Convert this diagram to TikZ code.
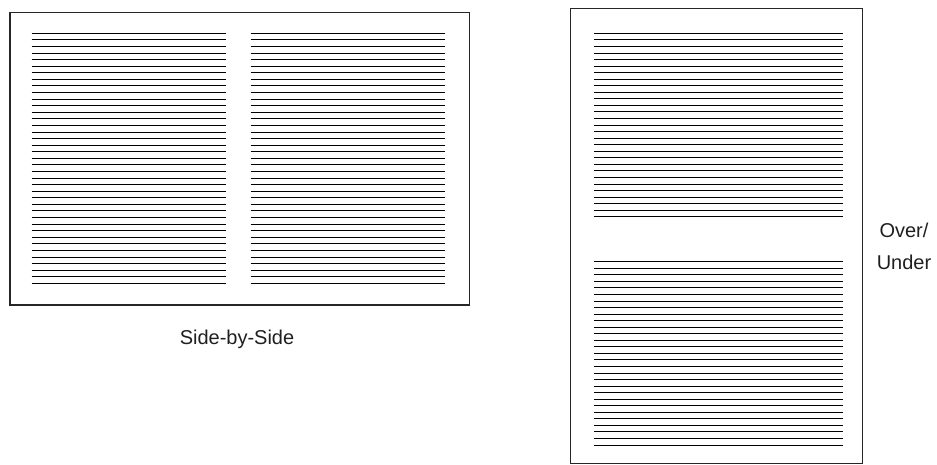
\documentclass[tikz,border=0pt]{standalone}
\usepackage{fontspec}
\setmainfont{Liberation Sans}
\begin{document}
\begin{tikzpicture}[x=1pt,y=-1pt,
  frame/.style={draw=black!85,line width=1.4pt},
  textline/.style={draw=black,line width=0.9pt},
  lbl/.style={font=\fontsize{20}{24}\selectfont,text=black!88,inner sep=0pt,anchor=base}]
\useasboundingbox (0,0) rectangle (937,464);
% Side-by-side page
\draw[frame] (10,12.3) rectangle (469.3,305);
\foreach \i in {0,...,38}{
  \pgfmathsetmacro{\yy}{33.3+\i*250/38}
  \draw[textline] (31.7,\yy) -- (226,\yy);
  \draw[textline] (250.7,\yy) -- (445.3,\yy);
}
\node[lbl] (sbs) at (237,344.3) {Side-by-Side};
% Over/under page
\draw[frame] (570.7,8.3) rectangle (862.7,463.3);
\foreach \i in {0,...,28}{
  \pgfmathsetmacro{\ya}{33.3+\i*183.4/28}
  \pgfmathsetmacro{\yb}{261.7+\i*183.3/28}
  \draw[textline] (594,\ya) -- (842.7,\ya);
  \draw[textline] (594,\yb) -- (842.7,\yb);
}
\node[lbl] (lblover) at (904,237.5) {Over/};
\node[lbl] (lblunder) at (904,269.5) {Under};
\end{tikzpicture}
\end{document}
